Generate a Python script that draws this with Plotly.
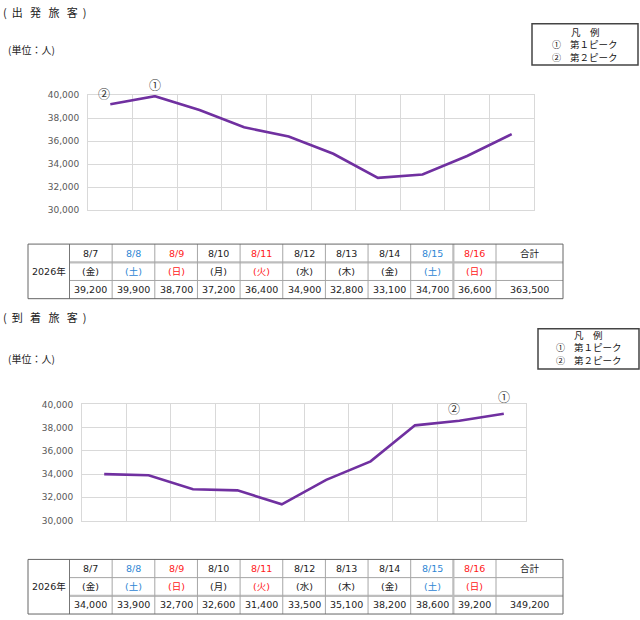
import plotly.graph_objects as go

# ---------------- data ----------------
dates = ["8/7", "8/8", "8/9", "8/10", "8/11", "8/12", "8/13", "8/14", "8/15", "8/16"]
weekdays = ["金", "土", "日", "月", "火", "水", "木", "金", "土", "日"]
day_kind = ["", "sat", "hol", "", "hol", "", "", "", "sat", "hol"]
departures = [39200, 39900, 38700, 37200, 36400, 34900, 32800, 33100, 34700, 36600]
arrivals = [34000, 33900, 32700, 32600, 31400, 33500, 35100, 38200, 38600, 39200]
dep_peaks = {"①": 1, "②": 0}
arr_peaks = {"①": 9, "②": 8}
year_label = "2026年"
total_label = "合計"
legend_title = "凡　例"
legend_items = [("①", "第１ピーク"), ("②", "第２ピーク")]
y_ticks = [30000, 32000, 34000, 36000, 38000, 40000]

# ---------------- style ----------------
W, H = 640, 620
JP = "Noto Sans CJK JP"
NUM = "DejaVu Sans, Noto Sans CJK JP"
LINE_COLOR = "#7030A0"
KIND_COLOR = {"": "#222222", "sat": "#2E86D4", "hol": "#FF2020"}
NB = "\u00a0"


def px(x):
    return x / W


def py(y):
    return 1 - y / H


def spaced(chars):
    return "(" + NB * 2 + (NB * 3).join(chars) + NB * 2 + ")"


fig = go.Figure()
shapes = []
annotations = []


def add_section(idx, values, peaks, title, title_y, unit_y, legend_box, legend_ys, plot_box,
                table_top, thick_row, peak_shifts):
    xa = "xaxis" if idx == 1 else "xaxis2"
    ya = "yaxis" if idx == 1 else "yaxis2"
    xr = "x" if idx == 1 else "x2"
    yr = "y" if idx == 1 else "y2"
    x0, y0, x1, y1 = plot_box
    fig.add_trace(go.Scatter(x=dates, y=values, mode="lines", xaxis=xr, yaxis=yr,
                             line=dict(color=LINE_COLOR, width=2.6), hoverinfo="skip",
                             showlegend=False))
    fig.update_layout(**{
        xa: dict(domain=[px(x0), px(x1)], anchor=yr, type="category", tickson="boundaries",
                 range=[-0.5, len(dates) - 0.5],
                 showticklabels=False, ticks="", showgrid=True, gridcolor="#d9d9d9",
                 gridwidth=1, showline=True, linecolor="#d9d9d9", mirror=True,
                 zeroline=False, fixedrange=True),
        ya: dict(domain=[py(y1), py(y0)], anchor=xr, range=[30000, 40000],
                 tickvals=y_ticks, tickformat=",", showgrid=True, gridcolor="#d9d9d9",
                 gridwidth=1, showline=True, linecolor="#d9d9d9", mirror=True,
                 zeroline=False, ticks="", ticklabelstandoff=6,
                 tickfont=dict(family=NUM, size=9, color="#595959"), fixedrange=True),
    })
    # peak markers
    for label, i in peaks.items():
        dx, dy = peak_shifts[label]
        annotations.append(dict(x=dates[i], y=values[i], xref=xr, yref=yr, text=label,
                                showarrow=False, xshift=dx, yshift=dy,
                                font=dict(family=JP, size=12, color="#333333")))
    # title + unit
    annotations.append(dict(x=px(1), y=py(title_y), xref="paper", yref="paper",
                            text=spaced(title), showarrow=False, xanchor="left", yanchor="middle",
                            font=dict(family=JP, size=11, color="#222222")))
    annotations.append(dict(x=px(6), y=py(unit_y), xref="paper", yref="paper",
                            text="(単位：人)", showarrow=False, xanchor="left", yanchor="middle",
                            font=dict(family=JP, size=10, color="#222222")))
    # legend box
    lx0, ly0, lx1, ly1 = legend_box
    shapes.append(dict(type="rect", xref="paper", yref="paper", x0=px(lx0), x1=px(lx1),
                       y0=py(ly1), y1=py(ly0), line=dict(color="#444444", width=1.5)))
    cx = (lx0 + lx1) / 2
    texts = [legend_title] + [
        f"<span style=\"font-family:'{JP}';font-size:9px\">{m}</span>{NB * 3}{t}" for m, t in legend_items]
    for txt, yy in zip(texts, legend_ys):
        annotations.append(dict(x=px(cx), y=py(yy), xref="paper", yref="paper",
                                text=txt, showarrow=False, xanchor="center", yanchor="middle",
                                borderpad=0, font=dict(family=NUM, size=9.5, color="#111111")))
    # table
    left, labw, dayw, totw = 28, 41.5, 42.65, 67
    edges = [left, left + labw] + [left + labw + dayw * (k + 1) for k in range(len(dates))]
    edges.append(edges[-1] + totw)
    rh = 18.5
    rows = [table_top + rh * k for k in range(4)]
    inner = "#a6a6a6"
    for r in (1, 2):
        w = 2.2 if r == thick_row else 1
        c = "#bdbdbd" if r == thick_row else inner
        shapes.append(dict(type="line", xref="paper", yref="paper", x0=px(edges[1]), x1=px(edges[-1]),
                           y0=py(rows[r]), y1=py(rows[r]), line=dict(color=c, width=w)))
    for k in range(1, len(edges) - 1):
        w = 2.2 if k == len(edges) - 3 else 1
        c = "#bdbdbd" if k == len(edges) - 3 else inner
        if k == 1:
            c, w = "#777777", 1
        shapes.append(dict(type="line", xref="paper", yref="paper", x0=px(edges[k]), x1=px(edges[k]),
                           y0=py(rows[0]), y1=py(rows[3]), line=dict(color=c, width=w)))
    shapes.append(dict(type="rect", xref="paper", yref="paper", x0=px(edges[0]), x1=px(edges[-1]),
                       y0=py(rows[3]), y1=py(rows[0]), line=dict(color="#666666", width=1)))

    def cell(col, row, text, color="#222222", span=1):
        xc = (edges[col] + edges[col + 1]) / 2
        yc = (rows[row] + rows[row + span]) / 2
        annotations.append(dict(x=px(xc), y=py(yc), xref="paper", yref="paper", text=text,
                                showarrow=False, xanchor="center", yanchor="middle",
                                font=dict(family=NUM, size=9.5, color=color)))

    cell(0, 0, year_label, span=3)
    for i, d in enumerate(dates):
        col = KIND_COLOR[day_kind[i]]
        cell(i + 1, 0, d, col)
        cell(i + 1, 1, "(" + weekdays[i] + ")", col)
        cell(i + 1, 2, f"{values[i]:,}")
    cell(len(dates) + 1, 0, total_label)
    cell(len(dates) + 1, 2, f"{sum(values):,}")


add_section(1, departures, dep_peaks, "出発旅客", title_y=7, unit_y=45,
            legend_box=(532, 19, 638, 61), legend_ys=(27.5, 39.8, 53.1),
            plot_box=(88, 91.5, 534, 208.5),
            table_top=243, thick_row=1,
            peak_shifts={"①": (0, 12), "②": (-6, 11)})
add_section(2, arrivals, arr_peaks, "到着旅客", title_y=317, unit_y=359,
            legend_box=(538, 329, 639, 370), legend_ys=(335.5, 347.8, 361.1),
            plot_box=(82, 406, 526, 524),
            table_top=563.5, thick_row=2,
            peak_shifts={"①": (0, 17), "②": (-5, 12.5)})

fig.update_layout(width=W, height=H, margin=dict(l=0, r=0, t=0, b=0),
                  paper_bgcolor="white", plot_bgcolor="white",
                  shapes=shapes, annotations=annotations, showlegend=False)

fig.write_html("out.html", config={"displayModeBar": False},
               post_script="document.body.style.margin='0';document.body.style.overflow='hidden';")
